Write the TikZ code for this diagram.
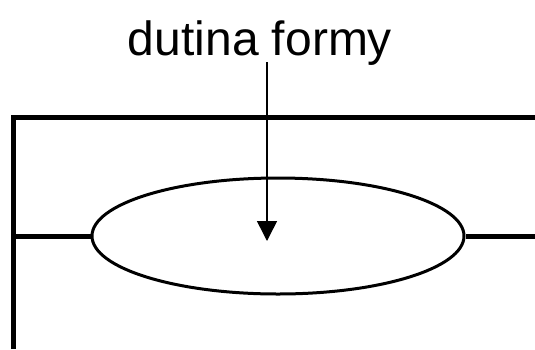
\documentclass[tikz,border=0pt]{standalone}
\usepackage{fontspec}
\setmainfont{Liberation Sans}
\usetikzlibrary{shapes.geometric,arrows.meta}

\begin{document}
\begin{tikzpicture}[x=1pt, y=-1pt,
    frame/.style={line width=5pt},
    cavity/.style={ellipse, draw, line width=3pt, minimum width=372pt, minimum height=116pt, inner sep=0pt},
    pointer/.style={line width=1.5pt, -{Triangle[width=20pt,length=20pt]}}]
    \useasboundingbox (0,0) rectangle (535,349);
    % --- forma: ram a dutina ---
    \coordinate (frame_bl) at (13,349);
    \coordinate (frame_tl) at (13,117);
    \coordinate (frame_tr) at (535,117);
    \coordinate (mid_l) at (13,236);
    \coordinate (mid_r) at (535,236);
    \draw[frame] (frame_bl) -- (frame_tl) -- (frame_tr);
    \node[cavity] (dutina) at (278,236) {};
    \draw[frame] (mid_l) -- (dutina.west);
    \draw[frame] (dutina.east) -- (mid_r);

    % --- popisek ---
    \node[anchor=base, font=\fontsize{48}{50}\selectfont, inner sep=0pt] (popis) at (260,55) {dutina formy};
    \coordinate (sipka_start) at (267,62);
    \coordinate (sipka_end) at (267,241);
    \draw[pointer] (sipka_start) -- (sipka_end);
\end{tikzpicture}
\end{document}
